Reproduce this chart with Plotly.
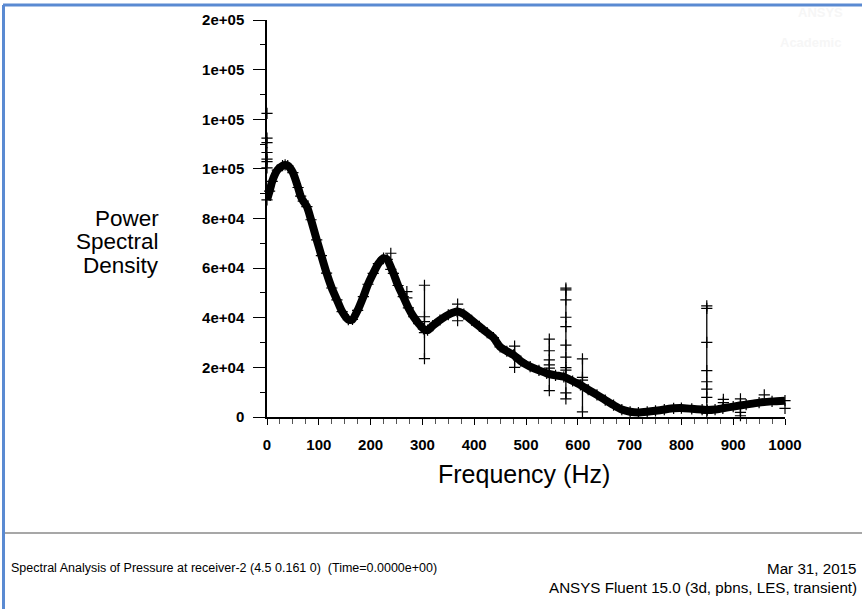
import plotly.graph_objects as go

W, H = 862, 609

# ---- main spectrum ----
freq = [0, 5, 10, 20, 30, 35, 40, 50, 60, 65, 70, 77, 85, 96, 105, 115, 125, 135, 145, 157,
        165, 175, 186, 195, 205, 215, 225, 232, 244, 253, 263, 273, 283, 293, 302, 310, 320,
        334, 350, 367, 380, 395, 410, 425, 437, 450, 463, 476, 490, 508, 525, 540, 557, 573,
        590, 605, 620, 637, 653, 669, 685, 701, 717, 734, 750, 767, 785, 800, 820, 840, 850,
        865, 880, 900, 925, 950, 975, 1000]
psd = [87500, 91000, 95000, 99500, 101300, 101600, 101300, 98500, 92500, 89000, 87000, 84800,
       79500, 71400, 65000, 58000, 52000, 47200, 42500, 39200, 39300, 43000, 48500, 53500,
       57900, 61800, 64000, 63500, 57900, 53000, 48500, 44000, 40400, 37600, 35500, 35000,
       36800, 39100, 41200, 42500, 41500, 39000, 36500, 34000, 32000, 28300, 26500, 25000,
       22500, 20300, 18800, 17600, 16800, 16200, 14500, 12900, 11000, 8900, 6800, 4800, 3000,
       2100, 1800, 2100, 2500, 3000, 3500, 3600, 3300, 3000, 2800, 3000, 3500, 4200, 5000,
       5800, 6300, 6600]

# ---- spikes (vertical excursions drawn with lines) ----
spike_freqs = [304, 478, 545, 577, 609, 849, 914]
spike_values = [
    [53100, 40400, 38400, 34000, 23500],
    [28600, 24500, 20000],
    [31400, 26700, 23000, 21000, 19700, 10600],
    [51900, 51200, 47200, 40200, 36400, 29000, 24100, 19900, 18900, 9700, 7300],
    [23400, 16000, 14900, 2100],
    [44800, 43800, 30100, 18700, 14200, 11200, 7900, 1600],
    [7300, 1900, 500],
]

# ---- stray points (markers only) ----
stray_freq = [0, 0, 0, 0, 0, 0, 0, 239, 239, 270, 270, 368, 368, 881, 881, 960, 1000]
stray_psd = [122400, 112400, 110600, 106600, 103900, 102900, 100400, 66000, 59500,
             50500, 48000, 45500, 38800, 7100, 5800, 8900, 3500]

y_tickvals = [0, 20000, 40000, 60000, 80000, 100000, 120000, 140000, 160000]
y_ticktext = ["0", "2e+04", "4e+04", "6e+04", "8e+04", "1e+05", "1e+05", "1e+05", "2e+05"]
x_tickvals = [0, 100, 200, 300, 400, 500, 600, 700, 800, 900, 1000]

sx, sy = [], []
for f, vals in zip(spike_freqs, spike_values):
    sx += [f] * len(vals) + [None]
    sy += vals + [None]

cross = dict(symbol="cross-thin", size=8, color="black", line=dict(width=1.2, color="black"))

fig = go.Figure()
fig.add_trace(go.Scatter(x=freq, y=psd, mode="lines+markers",
                         line=dict(color="black", width=8, shape="spline", smoothing=0.6),
                         marker=dict(symbol="cross-thin", size=8, color="black",
                                     line=dict(width=1.2, color="black")),
                         cliponaxis=False, showlegend=False, hoverinfo="x+y"))
fig.add_trace(go.Scatter(x=sx, y=sy, mode="lines+markers", line=dict(color="black", width=1.3),
                         marker=cross, cliponaxis=False, showlegend=False, connectgaps=False))
fig.add_trace(go.Scatter(x=stray_freq, y=stray_psd, mode="markers", marker=cross,
                         cliponaxis=False, showlegend=False))

tickfont = dict(family="Liberation Sans, Arial", size=15, color="black", weight="bold")

fig.update_layout(
    width=W, height=H, margin=dict(l=0, r=0, t=0, b=0, pad=0), autosize=False,
    paper_bgcolor="white", plot_bgcolor="white",
    xaxis=dict(domain=[267 / W, 785 / W], range=[0, 1000], tickvals=x_tickvals,
               ticks="outside", ticklen=6, tickwidth=1, tickcolor="black", automargin=False,
               minor=dict(dtick=25, tick0=0, ticks="outside", ticklen=5, tickcolor="#555"),
               showline=True, linecolor="black", linewidth=1.5, showgrid=False,
               zeroline=False, tickfont=tickfont, ticklabelstandoff=7),
    yaxis=dict(domain=[1 - 417 / H, 1 - 20 / H], range=[0, 160000], tickvals=y_tickvals,
               ticktext=y_ticktext, ticks="outside", ticklen=12, tickwidth=1,
               tickcolor="black", automargin=False,
               minor=dict(dtick=10000, tick0=0, ticks="outside", ticklen=5, tickcolor="black"),
               showline=True, linecolor="black", linewidth=1.5, showgrid=False,
               zeroline=False, tickfont=tickfont, ticklabelstandoff=6),
)

def px(x):
    return x / W

def py(y):
    return 1 - y / H

ann_font = dict(family="Liberation Sans, Arial", size=22.5, color="black")
for txt, yc in [("Power", 218), ("Spectral", 241.5), ("Density", 265)]:
    fig.add_annotation(x=px(161), y=py(yc), xref="paper", yref="paper", text=txt,
                       showarrow=False, xanchor="right", yanchor="middle", font=ann_font)

fig.add_annotation(x=px(524), y=py(474), xref="paper", yref="paper", text="Frequency (Hz)",
                   showarrow=False, xanchor="center", yanchor="middle",
                   font=dict(family="Liberation Sans, Arial", size=25, color="black"))

foot_l = dict(family="Liberation Sans, Arial", size=12.5, color="black")
foot_r = dict(family="Liberation Sans, Arial", size=15.2, color="black")
fig.add_annotation(x=px(9), y=py(568), xref="paper", yref="paper",
                   text="Spectral Analysis of Pressure at receiver-2 (4.5 0.161 0)  (Time=0.0000e+00)",
                   showarrow=False, xanchor="left", yanchor="middle", font=foot_l)
fig.add_annotation(x=px(859), y=py(568), xref="paper", yref="paper", text="Mar 31, 2015",
                   showarrow=False, xanchor="right", yanchor="middle", font=foot_r)
fig.add_annotation(x=px(859), y=py(587), xref="paper", yref="paper",
                   text="ANSYS Fluent 15.0 (3d, pbns, LES, transient)",
                   showarrow=False, xanchor="right", yanchor="middle", font=foot_r)

# faint watermark top-right
wm = dict(family="Liberation Sans, Arial", size=13, color="#f6f6f6", weight="bold")
fig.add_annotation(x=px(820), y=py(13), xref="paper", yref="paper", text="ANSYS",
                   showarrow=False, xanchor="center", yanchor="middle", font=wm)
fig.add_annotation(x=px(810), y=py(42), xref="paper", yref="paper", text="Academic",
                   showarrow=False, xanchor="center", yanchor="middle", font=wm)

# frame lines
fig.add_shape(type="line", xref="paper", yref="paper", x0=px(3), x1=1, y0=py(5), y1=py(5),
              line=dict(color="#5a8ad2", width=3))
fig.add_shape(type="line", xref="paper", yref="paper", x0=px(3.5), x1=px(3.5), y0=py(5), y1=0,
              line=dict(color="#5a8ad2", width=3))
fig.add_shape(type="line", xref="paper", yref="paper", x0=px(5), x1=1, y0=py(533), y1=py(533),
              line=dict(color="#8a8a8a", width=1.5))

fig.write_html(
    "out.html",
    post_script="document.body.style.margin='0';document.body.style.overflow='hidden';",
)
